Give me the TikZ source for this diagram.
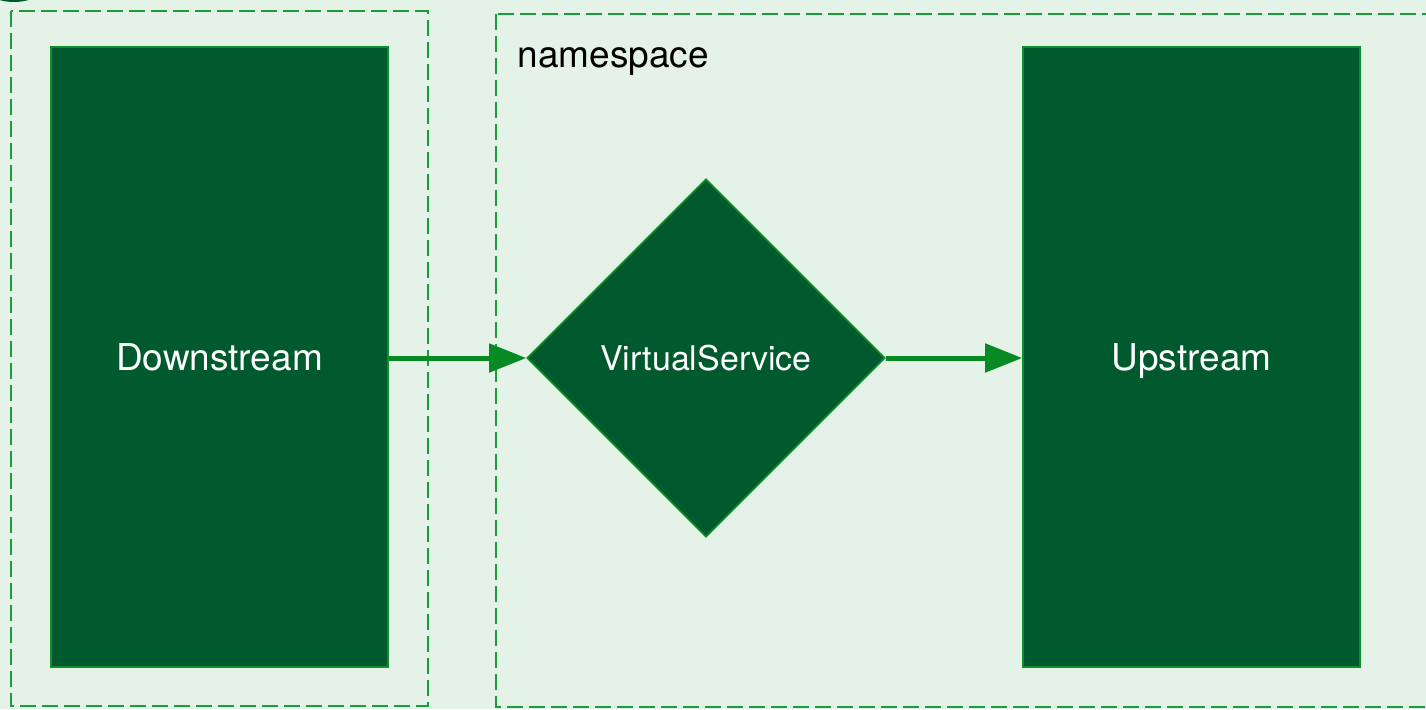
\documentclass[tikz,border=0pt]{standalone}
\usepackage{fontspec}
\setmainfont{TeX Gyre Heros}
\usetikzlibrary{shapes.geometric,arrows.meta}
\definecolor{bgmint}{HTML}{E4F2E7}
\definecolor{boxfill}{HTML}{005A2E}
\definecolor{boxline}{HTML}{0E8F2C}
\definecolor{flow}{HTML}{078A24}
\definecolor{zoneline}{HTML}{1C9C38}
\tikzset{
  zone/.style={draw=zoneline, line width=1.8pt, dash pattern=on 16pt off 6pt},
  svc/.style={draw=boxline, fill=boxfill, line width=1.6pt, text=white,
    font=\fontsize{37}{44}\selectfont, inner sep=0pt,
    text height=27pt, text depth=0pt},
  flowarrow/.style={draw=flow, line width=5pt, -{Triangle[length=37pt,width=28pt]}},
}
\begin{document}
\begin{tikzpicture}[x=1pt,y=-1pt]
  \useasboundingbox (0,0) rectangle (1426,709);
  \fill[bgmint] (0,0) rectangle (1426,709);
  \begin{scope}
    \clip (0,0) rectangle (1426,709);
    % partly visible shape in the corner
    \fill[boxfill] (14,-6) ellipse [x radius=22pt, y radius=8pt];
    % dashed zones
    \draw[zone] (11,11) rectangle (428,706);
    \draw[zone] (496,14) rectangle (1440,707);
  \end{scope}
  \node[anchor=base west, font=\fontsize{37}{44}\selectfont] (ns) at (514,67) {namespace};
  % services
  \node[svc, minimum width=337pt, minimum height=620pt] (down) at (219.5,357) {Downstream};
  \node[svc, minimum width=337pt, minimum height=620pt] (up) at (1191.5,357) {Upstream};
  \node[svc, shape=diamond, minimum width=358pt, minimum height=358pt,
        font=\fontsize{34}{40}\selectfont, text height=25pt] (vs) at (706,358) {VirtualService};
  % traffic flow
  \draw[flowarrow] (down.east |- vs.west) -- (vs.west);
  \draw[flowarrow] (vs.east) -- (up.west |- vs.east);
\end{tikzpicture}
\end{document}
